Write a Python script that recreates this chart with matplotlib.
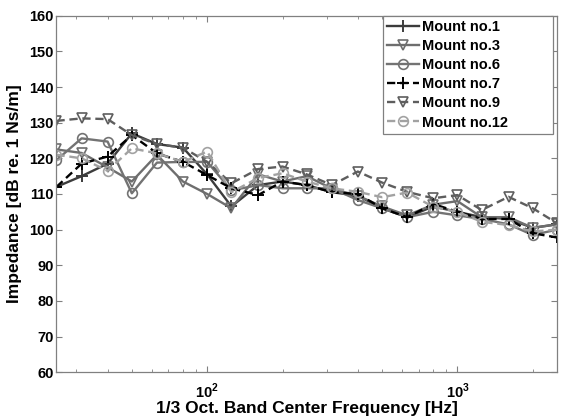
import matplotlib
matplotlib.use("Agg")
import matplotlib.pyplot as plt
from matplotlib.ticker import LogLocator, NullFormatter

# 1/3 octave band centre frequencies [Hz]
freqs = [25, 31.5, 40, 50, 63, 80, 100, 125, 160, 200, 250, 315,
         400, 500, 630, 800, 1000, 1250, 1600, 2000, 2500]

# impedance per mount [dB re. 1 Ns/m]
mount_1 = [112, 115, 118.5, 127, 124, 123, 115.5, 106.5, 112.5, 113.5, 112.5,
           110.5, 109.5, 106, 103.5, 106.5, 105, 103.5, 103, 100.5, 101.5]
mount_3 = [122.5, 121.5, 117.5, 113.5, 121, 113.5, 110, 106, 115.5, 113.5, 115,
           111.5, 109.5, 106.5, 104, 107, 108, 103.5, 103.5, 100.5, 101.5]
mount_6 = [119.5, 125.6, 124.7, 110.2, 118.8, 119, 119, 111, 112.5, 111.6, 111.6,
           111.6, 108.3, 106, 103.5, 105, 104, 103, 101.5, 98.5, 100]
mount_7 = [112, 118.5, 120.5, 126.5, 121.4, 119, 115.3, 111.6, 109.7, 113.5, 112.5,
           110.5, 110, 106, 103.5, 107.2, 105, 103, 103, 99, 97.8]
mount_9 = [130.5, 131.2, 131, 126.5, 124, 123, 119, 113, 117, 117.7, 115.5,
           112.5, 116.3, 113.2, 110.6, 108.8, 109.7, 105.5, 109.2, 106, 101.8]
mount_12 = [121, 120, 116.5, 122.8, 121.4, 119, 121.9, 110.5, 114.5, 115.8, 113.5,
            111.6, 110.6, 109.1, 110.4, 106.4, 105, 102.2, 101.3, 99.5, 100]

labels = ["Mount no.1", "Mount no.3", "Mount no.6",
          "Mount no.7", "Mount no.9", "Mount no.12"]

plt.rcParams["font.family"] = ["Liberation Sans", "DejaVu Sans"]
plt.rcParams["font.weight"] = "bold"
plt.rcParams["mathtext.fontset"] = "custom"
plt.rcParams["mathtext.rm"] = "Liberation Sans:bold"
plt.rcParams["mathtext.bf"] = "Liberation Sans:bold"

fig = plt.figure(figsize=(5.61, 4.17), dpi=100)
ax = fig.add_axes([0.1007, 0.1072, 0.8922, 0.8552])

dash = (3.5, 2)
ax.plot(freqs, mount_1, color="#3c3c3c", lw=1.7, marker="+", ms=8, mew=1.4)
ax.plot(freqs, mount_3, color="#6e6e6e", lw=1.7, marker="v", ms=7, mfc="none", mew=1.2)
ax.plot(freqs, mount_6, color="#737373", lw=1.7, marker="o", ms=7, mfc="none", mew=1.2)
ax.plot(freqs, mount_7, color="black", lw=1.7, ls="--", dashes=dash,
        marker="+", ms=8, mew=1.4)
ax.plot(freqs, mount_9, color="#5e5e5e", lw=1.7, ls="--", dashes=dash,
        marker="v", ms=7, mfc="none", mew=1.2)
ax.plot(freqs, mount_12, color="#a2a2a2", lw=1.7, ls="--", dashes=dash,
        marker="o", ms=7, mfc="none", mew=1.2)

ax.set_xscale("log")
ax.set_xlim(25, 2500)
ax.set_ylim(60, 160)
ax.set_yticks(range(60, 161, 10))
ax.set_xticks([100, 1000])
ax.set_xticklabels(["$10^2$", "$10^3$"])
ax.xaxis.set_minor_locator(LogLocator(base=10, subs=range(2, 10)))
ax.xaxis.set_minor_formatter(NullFormatter())

for sp in ax.spines.values():
    sp.set_color("#808080")
    sp.set_linewidth(0.9)
ax.tick_params(which="both", direction="in", top=True, right=True,
               color="#808080", labelsize=10.5)
ax.tick_params(axis="y", pad=2)
ax.tick_params(axis="x", pad=7)
ax.tick_params(which="major", length=4)
ax.tick_params(which="minor", length=2.5)

ax.set_xlabel("1/3 Oct. Band Center Frequency [Hz]", fontsize=12.5,
              fontweight="bold", labelpad=0)
ax.set_ylabel("Impedance [dB re. 1 Ns/m]", fontsize=12.5,
              fontweight="bold", labelpad=5)

# wide box with empty space on the right, like the original export
leg = ax.legend(labels, loc="upper right", bbox_to_anchor=(0.652, 0.0, 0.34, 1.0),
                mode="expand", borderaxespad=0, fancybox=False, framealpha=1,
                edgecolor="#808080", fontsize=10.5, handlelength=2.2,
                handletextpad=0.2, labelspacing=0.35, borderpad=0.3)
leg.get_frame().set_linewidth(0.9)

fig.savefig("out.png", dpi=100)
